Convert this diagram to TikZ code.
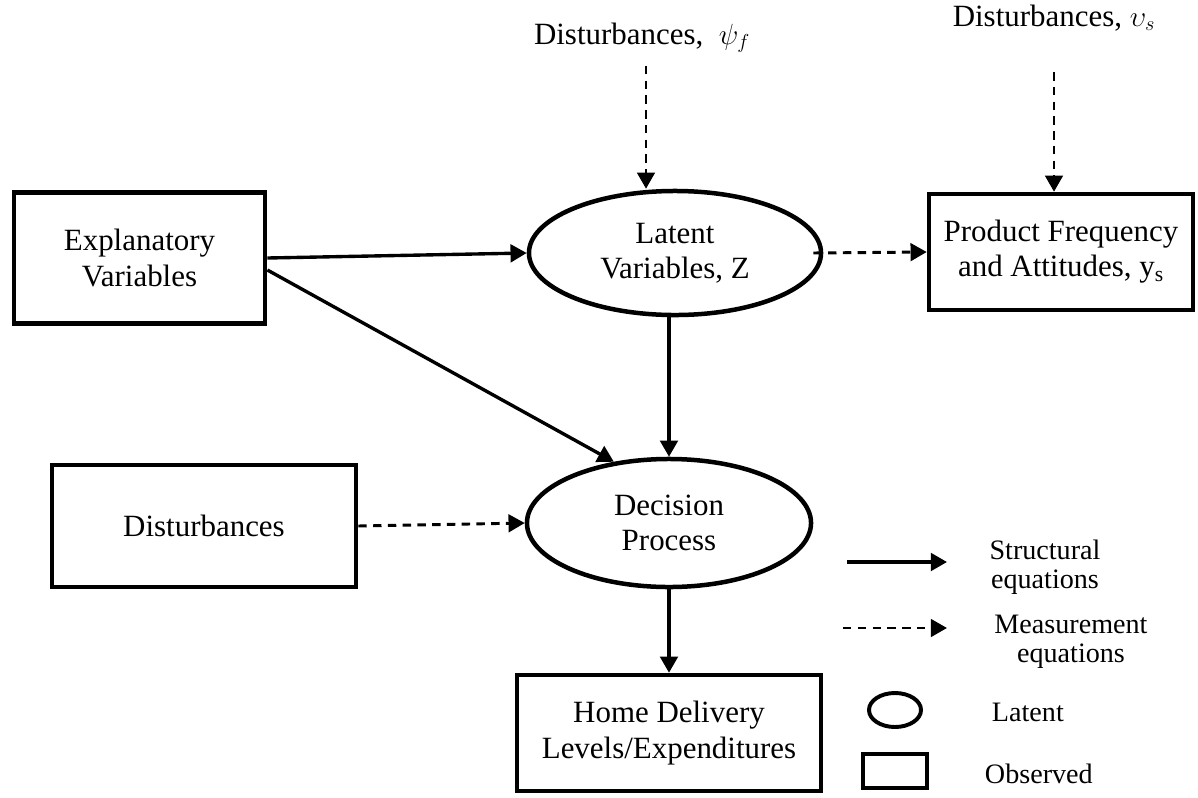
\documentclass[tikz,border=0pt]{standalone}
\usepackage{fontspec}
\setmainfont{Liberation Serif}
\usepackage{amsmath}
\usetikzlibrary{arrows.meta,shapes.geometric}

\begin{document}
\begin{tikzpicture}[x=0.025cm, y=-0.025cm,
    obsbox/.style={draw, line width=3.2pt, rectangle, align=center, font=\fontsize{22}{25}\selectfont},
    latbox/.style={draw, line width=3.2pt, ellipse, align=center, inner sep=0pt, font=\fontsize{22}{25}\selectfont},
    structarrow/.style={line width=2.4pt, -{Triangle[length=11.5pt, width=12.5pt]}},
    measarrow/.style={line width=2.1pt, dash pattern=on 6pt off 4.5pt, -{Triangle[length=11.5pt, width=12.5pt]}},
    legtext/.style={align=center, font=\fontsize{20}{21}\selectfont}]
  \useasboundingbox (0,0) rectangle (1198,797);

  \node[obsbox, minimum width=6.28cm, minimum height=3.28cm] (expl) at (139.5,258) {Explanatory\\Variables};
  \node[latbox, minimum width=7.3cm, minimum height=3.1cm] (latent) at (675,253) {Latent\\Variables, Z};
  \node[obsbox, minimum width=6.6cm, minimum height=2.9cm] (prod) at (1061,252) {Product Frequency\\and Attitudes, y\textsubscript{s}};
  \node[obsbox, minimum width=7.6cm, minimum height=3.05cm] (dist) at (204,526) {Disturbances};
  \node[latbox, minimum width=7.1cm, minimum height=3.2cm] (decision) at (669,523) {Decision\\Process};
  \node[obsbox, minimum width=7.6cm, minimum height=2.9cm] (home) at (669,733) {Home Delivery\\Levels/Expenditures};
  \node[font=\fontsize{22}{25}\selectfont] (dpsi) at (642,38) {Disturbances,~~$\psi_f$};
  \node[font=\fontsize{22}{25}\selectfont] (dups) at (1054,18) {Disturbances, $\upsilon_s$};

  \draw[structarrow] (expl.east) -- (latent.west);
  \draw[structarrow] ([yshift=-0.3cm]expl.east) -- (decision.132);
  \draw[structarrow] (decision.north |- latent.south) -- (decision.north);
  \draw[structarrow] (decision.south) -- (home.north);
  \draw[measarrow] (dist.east) -- (decision.west);
  \draw[measarrow] ([xshift=-0.25cm]latent.east) -- (prod.west);
  \draw[measarrow, shorten <=0.2cm] ([xshift=0.1cm]dpsi.south) -- ([xshift=0.1cm]dpsi.south |- latent.north);
  \draw[measarrow, shorten <=0.9cm] (dups.south) -- (dups.south |- prod.north);

  \coordinate (sfrom) at (847,562);
  \coordinate (sto) at (947,562);
  \coordinate (mfrom) at (843,628);
  \coordinate (mto) at (947,628);
  \draw[structarrow] (sfrom) -- (sto);
  \draw[measarrow] (mfrom) -- (mto);
  \node[legtext] (lstruct) at (1045,567) {Structural\\equations};
  \node[legtext] (lmeas) at (1071,642) {Measurement\\equations};
  \node[draw, ellipse, line width=2.8pt, minimum width=1.3cm, minimum height=0.85cm] (llat) at (895,710) {};
  \node[draw, rectangle, line width=3.2pt, minimum width=1.6cm, minimum height=0.85cm] (lobs) at (895,771) {};
  \node[legtext, anchor=west] (llattext) at (987,712) {Latent};
  \node[legtext, anchor=west] (lobstext) at (980,774) {Observed};
\end{tikzpicture}
\end{document}
